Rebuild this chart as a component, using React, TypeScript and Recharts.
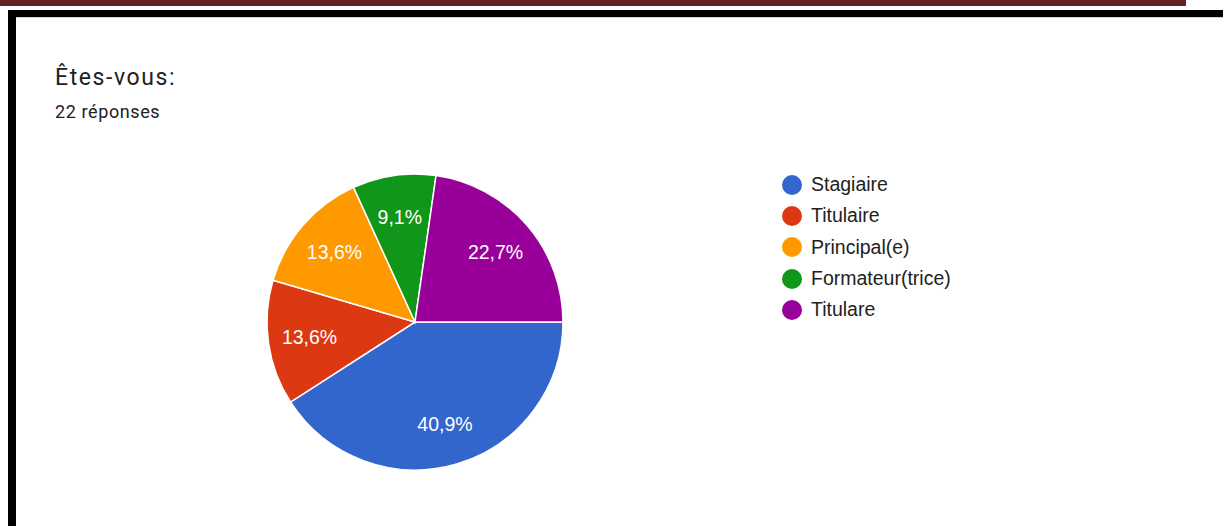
import { Cell, Pie, PieChart } from "recharts"

const categories = ["Stagiaire", "Titulaire", "Principal(e)", "Formateur(trice)", "Titulare"]
const responses = [9, 3, 3, 2, 5]
const colors = ["#3366cc", "#dc3912", "#ff9900", "#109618", "#990099"]

const data = categories.map((name, i) => ({ name, value: responses[i] }))
const total = responses.reduce((a, b) => a + b, 0)

const chartFont = "Arial, 'Liberation Sans', sans-serif"
const RADIAN = Math.PI / 180

function renderLabel(props: any) {
  const { cx, cy, midAngle, outerRadius, percent } = props
  const r = outerRadius * 0.72
  const x = cx + r * Math.cos(-midAngle * RADIAN)
  const y = cy + r * Math.sin(-midAngle * RADIAN)
  return (
    <text
      x={x}
      y={y}
      fill="#ffffff"
      textAnchor="middle"
      dominantBaseline="central"
      fontSize={19.5}
      fontFamily={chartFont}
    >
      {(percent * 100).toFixed(1).replace(".", ",")}%
    </text>
  )
}

function LegendList() {
  return (
    <ul style={{ listStyle: "none", margin: 0, padding: 0 }}>
      {categories.map((name, i) => (
        <li
          key={name}
          style={{ display: "flex", alignItems: "center", height: 31.3, fontFamily: chartFont, fontSize: 19.5, color: "#222222" }}
        >
          <span
            style={{ width: 20, height: 20, borderRadius: "50%", background: colors[i], marginRight: 9, flex: "none" }}
          />
          {name}
        </li>
      ))}
    </ul>
  )
}

export default function App() {
  return (
    <div style={{ position: "relative", width: 1223, height: 526, background: "#fff", overflow: "hidden" }}>
      <style>{`body{margin:0}`}</style>
      <div style={{ position: "absolute", left: 0, top: 0, width: 1186, height: 6, background: "#66221f" }} />
      <div style={{ position: "absolute", left: 8, top: 10, width: 1215, height: 7, background: "#000" }} />
      <div style={{ position: "absolute", left: 16, top: 17, width: 1207, height: 1, background: "#cfcfcf" }} />
      <div style={{ position: "absolute", left: 8, top: 10, width: 8, height: 516, background: "#000" }} />

      <div
        style={{ position: "absolute", left: 55, top: 64, fontFamily: "Roboto, sans-serif", fontSize: 23, color: "#202124", letterSpacing: 1.6 }}
      >
        Êtes-vous:
      </div>
      <div
        style={{ position: "absolute", left: 55, top: 101, fontFamily: "Roboto, sans-serif", fontSize: 18, color: "#202124", letterSpacing: 0.6 }}
      >
        {total} réponses
      </div>

      <div style={{ position: "absolute", left: 0, top: 0 }}>
        <PieChart width={1223} height={526} margin={{ top: 0, right: 0, bottom: 0, left: 0 }}>
          <Pie
            data={data}
            dataKey="value"
            nameKey="name"
            cx={415}
            cy={322}
            outerRadius={148}
            startAngle={0}
            endAngle={-360}
            stroke="#ffffff"
            strokeWidth={1.5}
            label={renderLabel}
            labelLine={false}
            isAnimationActive={false}
          >
            {data.map((d, i) => (
              <Cell key={d.name} fill={colors[i]} />
            ))}
          </Pie>
        </PieChart>
      </div>

      <div style={{ position: "absolute", left: 782, top: 169 }}>
        <LegendList />
      </div>
    </div>
  )
}
